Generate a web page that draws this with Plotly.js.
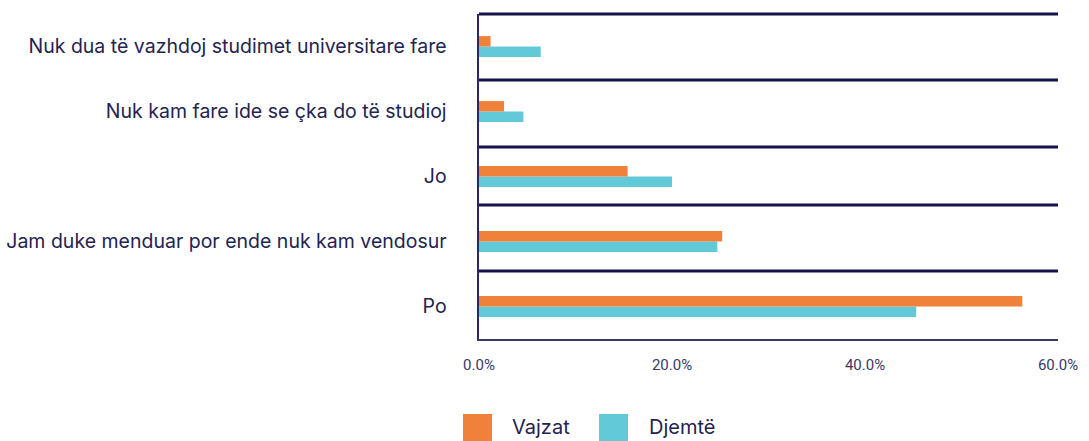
<!DOCTYPE html>
<html>
<head>
<meta charset="utf-8">
<script src="https://cdn.plot.ly/plotly-3.0.1.min.js"></script>
<style>html,body{margin:0;padding:0;background:#fff;}#chart{width:1089px;height:441px;}</style>
</head>
<body>
<div id="chart"></div>
<script>
// Categories bottom-to-top
const categories = [
  "Po",
  "Jam duke menduar por ende nuk kam vendosur",
  "Jo",
  "Nuk kam fare ide se çka do të studioj",
  "Nuk dua të vazhdoj studimet universitare fare"
];
const seriesNames = ["Vajzat", "Djemtë"];
const vajzat = [56.3, 25.2, 15.4, 2.6, 1.2];
const djemte = [45.3, 24.7, 20.0, 4.6, 6.4];
const tickVals = [0, 20, 40, 60];
const tickText = ["0.0%", "20.0%", "40.0%", "60.0%"];

const colors = {Vajzat: "#F0813A", Djemtë: "#62C9D9"};
const navy = "#16134A";

const traces = [
  {type: "bar", orientation: "h", name: seriesNames[1], y: categories, x: djemte,
   marker: {color: colors["Djemtë"]}, showlegend: false, hoverinfo: "x+y"},
  {type: "bar", orientation: "h", name: seriesNames[0], y: categories, x: vajzat,
   marker: {color: colors["Vajzat"]}, showlegend: false, hoverinfo: "x+y"}
];

// Horizontal separator lines (paper coords)
const sepY = [0.209, 0.412, 0.591, 0.797, 1.0];
const shapes = sepY.map(y => ({
  type: "line", xref: "paper", yref: "paper", x0: 0, x1: 1, y0: y, y1: y,
  line: {color: navy, width: 3}
}));

// Custom legend
const legendItems = [
  {name: seriesNames[0], x0: 463, tx: 510},
  {name: seriesNames[1], x0: 599, tx: 647}
];
const W = 1089, H = 441, L = 479, R = 31, T = 14, B = 102;
const pw = W - L - R, ph = H - T - B;
const px = v => (v - L) / pw;
const py = v => (H - B - v) / ph;
legendItems.forEach(it => {
  shapes.push({type: "rect", xref: "paper", yref: "paper",
    x0: px(it.x0), x1: px(it.x0 + 29), y0: py(414), y1: py(443),
    fillcolor: colors[it.name], line: {width: 0}});
});
const annotations = legendItems.map(it => ({
  xref: "paper", yref: "paper", x: px(it.tx), y: py(427), xanchor: "left", yanchor: "middle",
  text: it.name, showarrow: false,
  font: {family: "Inter, Roboto, sans-serif", size: 20, color: "#24234F"}
}));

const layout = {
  width: W, height: H,
  margin: {l: L, r: R, t: T, b: B, pad: 0},
  paper_bgcolor: "#fff", plot_bgcolor: "#fff",
  barmode: "group", bargap: 0.68, bargroupgap: 0,
  showlegend: false,
  xaxis: {
    range: [0, 60], tickvals: tickVals, ticktext: tickText,
    showgrid: false, zeroline: false, showline: true, linecolor: "#3A3968", linewidth: 2,
    ticks: "", ticklabelstandoff: 11,
    tickfont: {family: "Roboto, sans-serif", size: 15, color: "#3A3968"},
    fixedrange: true
  },
  yaxis: {
    type: "category", categoryorder: "array", categoryarray: categories,
    range: [-0.5, 4.5],
    showgrid: false, zeroline: false, showline: true, linecolor: "#2A2860", linewidth: 2.5,
    ticks: "", ticklabelstandoff: 26,
    tickfont: {family: "Inter, Roboto, sans-serif", size: 19.5, color: "#24234F"},
    fixedrange: true
  },
  shapes: shapes,
  annotations: annotations
};

Plotly.newPlot("chart", traces, layout, {displayModeBar: false, staticPlot: true});
</script>
</body>
</html>
